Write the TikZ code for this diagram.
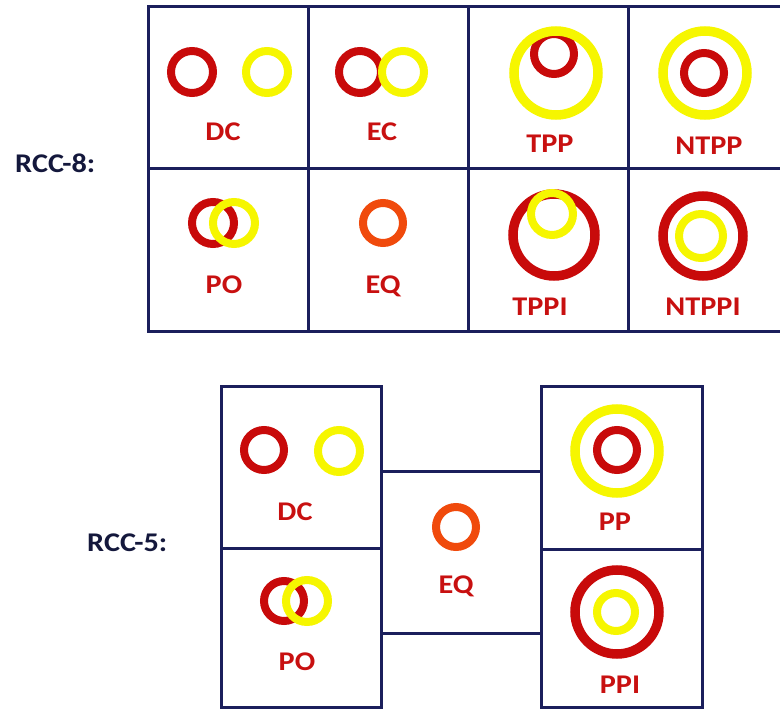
\documentclass[tikz,border=0pt]{standalone}
\usepackage{fontspec}
\setmainfont[FakeStretch=1.12]{Carlito}
\definecolor{gridnavy}{HTML}{1B1F5C}
\definecolor{ringred}{HTML}{C80A0A}
\definecolor{ringyellow}{HTML}{F6F600}
\definecolor{ringorange}{HTML}{F04A0C}
\definecolor{lblred}{HTML}{C81010}
\definecolor{titlenavy}{HTML}{14183C}
\tikzset{
  cellbox/.style={draw=gridnavy, line width=3pt},
  redring/.style={draw=ringred, line width=8pt},
  yelring/.style={draw=ringyellow, line width=8pt},
  orring/.style={draw=ringorange, line width=8pt},
  bigring/.style={line width=9.5pt},
  rel/.style={text=lblred, font=\fontsize{27}{30}\selectfont\bfseries, anchor=base, inner sep=0pt},
  calc title/.style={text=titlenavy, font=\fontsize{27}{30}\selectfont\bfseries, anchor=base west, inner sep=0pt}
}
\begin{document}
\begin{tikzpicture}[x=1pt,y=-1pt]
\useasboundingbox (0,0) rectangle (780,709);
\clip (0,0) rectangle (780,709);

% ---------- RCC-8 ----------
\node[calc title] (t8) at (15,172) {RCC-8:};
\draw[cellbox] (148,7) rectangle (800,331);
\draw[cellbox] (148,168) -- (800,168);
\foreach \gx in {308,468,628} \draw[cellbox] (\gx,7) -- (\gx,331);

% DC
\draw[redring] (192,72) circle (21);
\draw[yelring] (267,72) circle (21);
\node[rel] (dc8) at (223,140) {DC};
% EC
\draw[redring] (360,72) circle (21);
\draw[yelring] (403,72) circle (21);
\node[rel] (ec8) at (382,140) {EC};
% TPP: the outer ring hides the top of the inner one
\draw[redring] (554,54) circle (20);
\draw[yelring,bigring] (556,73) circle (42);
\node[rel] (tpp8) at (550,153) {TPP};
% NTPP
\draw[yelring,bigring] (705,73) circle (42);
\draw[redring] (704,73) circle (20);
\node[rel] (ntpp8) at (709,154) {NTPP};
% PO
\draw[redring] (213,223) circle (21);
\draw[yelring] (234,223) circle (21);
\node[rel] (po8) at (224,293) {PO};
% EQ
\draw[orring] (383,223) circle (20);
\node[rel] (eq8) at (383,293) {EQ};
% TPPI
\draw[redring,bigring] (554,235) circle (41);
\draw[yelring] (552,214) circle (21);
\node[rel] (tppi8) at (540,315) {TPPI};
% NTPPI
\draw[redring,bigring] (703,236) circle (40);
\draw[yelring] (701,236) circle (22);
\node[rel] (ntppi8) at (703,315) {NTPPI};

% ---------- RCC-5 ----------
\node[calc title] (t5) at (87,551) {RCC-5:};
\draw[cellbox] (221,386) rectangle (381,548);
\draw[cellbox] (221,548) rectangle (381,707);
\draw[cellbox] (381,471) rectangle (541,633);
\draw[cellbox] (541,386) rectangle (702,549);
\draw[cellbox] (541,549) rectangle (702,707);

% DC
\draw[redring] (264,450) circle (20);
\draw[yelring] (339,451) circle (21);
\node[rel] (dc5) at (295,520) {DC};
% PO
\draw[redring] (284,601) circle (20);
\draw[yelring] (307,601) circle (21);
\node[rel] (po5) at (297,670) {PO};
% EQ
\draw[orring] (456,527) circle (20);
\node[rel] (eq5) at (456,593) {EQ};
% PP
\draw[yelring,bigring] (617,451) circle (42);
\draw[redring] (617,450) circle (20);
\node[rel] (pp5) at (615,530) {PP};
% PPI
\draw[redring,bigring] (617,612) circle (42);
\draw[yelring] (616,612) circle (19);
\node[rel] (ppi5) at (620,693) {PPI};
\end{tikzpicture}
\end{document}
